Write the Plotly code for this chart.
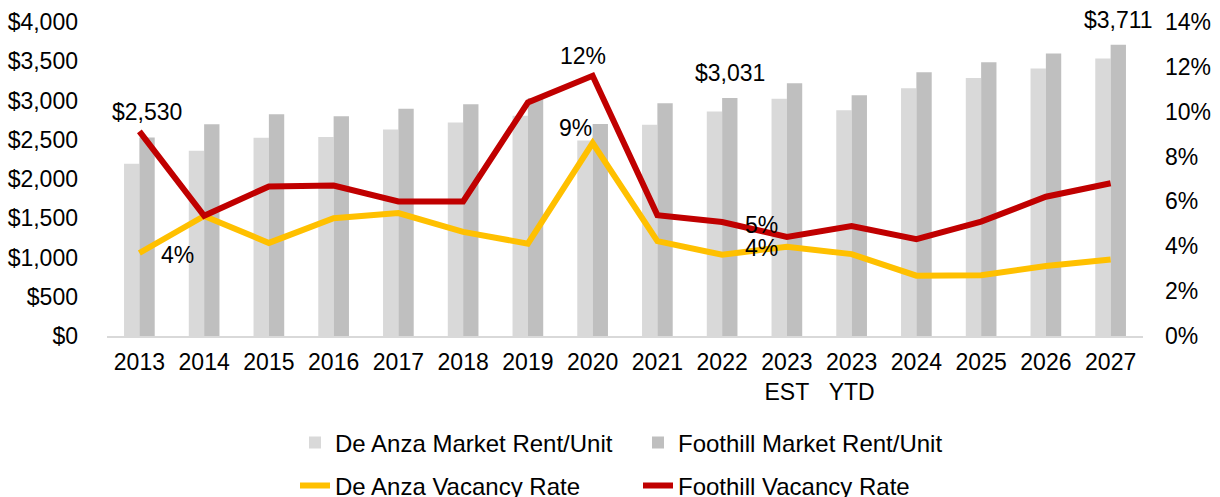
import plotly.graph_objects as go

# ---- data ----
categories = ["2013", "2014", "2015", "2016", "2017", "2018", "2019", "2020",
              "2021", "2022", "2023<br>EST", "2023<br>YTD", "2024", "2025", "2026", "2027"]
de_anza_rent = [2193, 2359, 2526, 2534, 2632, 2721, 2807, 2490, 2690, 2860, 3022, 2875,
                3156, 3287, 3407, 3534]
foothill_rent = [2530, 2696, 2824, 2798, 2896, 2951, 3031, 2700, 2966, 3031, 3220, 3068,
                 3360, 3488, 3598, 3711]
de_anza_vac = [3.70, 5.35, 4.15, 5.25, 5.48, 4.64, 4.12, 8.60, 4.23, 3.62, 3.98, 3.65,
               2.69, 2.71, 3.12, 3.41]
foothill_vac = [9.12, 5.36, 6.67, 6.71, 6.00, 6.00, 10.41, 11.60, 5.39, 5.08, 4.42, 4.90,
                4.32, 5.10, 6.21, 6.81]

FONT = "Liberation Sans, Arial, sans-serif"
FS = 23
LEG_FS = 24

fig = go.Figure()
fig.add_trace(go.Bar(x=categories, y=de_anza_rent, name="De Anza Market Rent/Unit",
                     marker=dict(color="#d9d9d9", line=dict(width=0)), legend="legend"))
fig.add_trace(go.Bar(x=categories, y=foothill_rent, name="Foothill Market Rent/Unit",
                     marker=dict(color="#bfbfbf", line=dict(width=0)), legend="legend2"))
fig.add_trace(go.Scatter(x=categories, y=de_anza_vac, name="De Anza Vacancy Rate",
                         mode="lines", line=dict(color="#ffc000", width=6),
                         yaxis="y2", legend="legend3"))
fig.add_trace(go.Scatter(x=categories, y=foothill_vac, name="Foothill Vacancy Rate",
                         mode="lines", line=dict(color="#c00000", width=6),
                         yaxis="y2", legend="legend4"))

annotations = []
# rent labels above Foothill bars (x given as category index)
for i in (0, 9, 15):
    annotations.append(dict(x=i, y=foothill_rent[i], xref="x", yref="y",
                            text=f"${foothill_rent[i]:,}", showarrow=False,
                            xshift=7.7, yshift=25, yanchor="middle", xanchor="center"))
# vacancy labels
annotations.append(dict(x=7, y=foothill_vac[7], xref="x", yref="y2",
                        text=f"{round(foothill_vac[7])}%", showarrow=False,
                        xshift=-10, yshift=20, yanchor="middle", xanchor="center"))
annotations.append(dict(x=7, y=de_anza_vac[7], xref="x", yref="y2",
                        text=f"{round(de_anza_vac[7])}%", showarrow=False,
                        xshift=-17, yshift=15, yanchor="middle", xanchor="center"))
annotations.append(dict(x=0, y=de_anza_vac[0], xref="x", yref="y2",
                        text=f"{round(de_anza_vac[0])}%", showarrow=False,
                        xshift=20, yshift=-2, yanchor="middle", xanchor="left"))
annotations.append(dict(x=9, y=foothill_vac[9], xref="x", yref="y2",
                        text=f"{round(foothill_vac[9])}%", showarrow=False,
                        xshift=21, yshift=-3, yanchor="middle", xanchor="left"))
annotations.append(dict(x=9, y=de_anza_vac[9], xref="x", yref="y2",
                        text=f"{round(de_anza_vac[9])}%", showarrow=False,
                        xshift=21, yshift=7, yanchor="middle", xanchor="left"))
for a in annotations:
    a["font"] = dict(family=FONT, size=FS, color="#000000")

L, R, T, B = 107, 77, 22, 161
W, H = 1220, 497
pw, ph = W - L - R, H - T - B


def px_x(px):
    return (px - L) / pw


def px_y(py):
    return (H - B - py) / ph


leg_common = dict(orientation="h", xanchor="left", yanchor="middle",
                  bgcolor="rgba(0,0,0,0)", borderwidth=0,
                  font=dict(family=FONT, size=LEG_FS, color="#000000"))

fig.update_layout(
    width=W, height=H,
    margin=dict(l=L, r=R, t=T, b=B, autoexpand=False),
    paper_bgcolor="white", plot_bgcolor="white",
    font=dict(family=FONT, size=FS, color="#000000"),
    barmode="group", bargap=0.526, bargroupgap=0,
    showlegend=True,
    legend=dict(x=px_x(295), y=px_y(443), **leg_common),
    legend2=dict(x=px_x(638), y=px_y(443), **leg_common),
    legend3=dict(x=px_x(295), y=px_y(486), **leg_common),
    legend4=dict(x=px_x(638), y=px_y(486), **leg_common),
    xaxis=dict(type="category", range=[-0.5, len(categories) - 0.5],
               showline=True, linecolor="#d9d9d9", linewidth=2, ticks="",
               showgrid=False, zeroline=False, tickangle=0, ticklabelstandoff=4,
               tickfont=dict(family=FONT, size=FS, color="#000000")),
    yaxis=dict(range=[0, 4000], dtick=500, tickprefix="$", tickformat=",",
               showgrid=False, zeroline=False, showline=False, ticks="",
               ticklabelstandoff=28,
               tickfont=dict(family=FONT, size=FS, color="#000000")),
    yaxis2=dict(range=[0, 14], dtick=2, ticksuffix="%", tickformat="d",
                overlaying="y", side="right", showgrid=False, zeroline=False,
                showline=False, ticks="", ticklabelstandoff=21,
                tickfont=dict(family=FONT, size=FS, color="#000000")),
    annotations=annotations,
)

fig.write_html("out.html",
               config={"displayModeBar": False},
               post_script="document.body.style.margin='0px';"
                           "document.body.style.overflow='hidden';")
